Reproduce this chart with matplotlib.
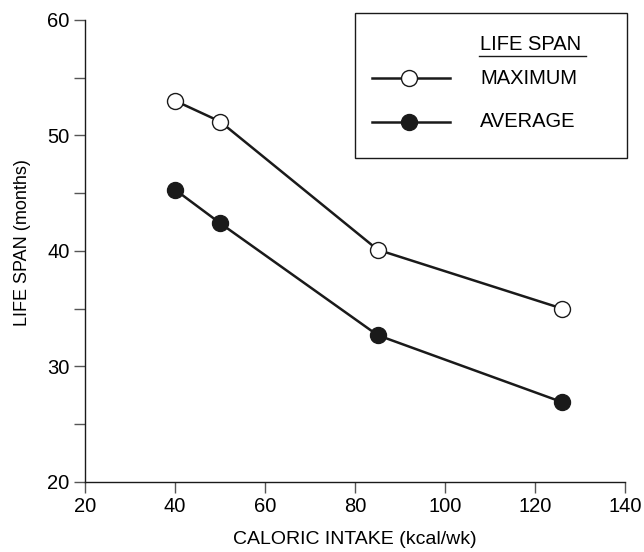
import matplotlib.pyplot as plt
from matplotlib.patches import Rectangle
from matplotlib.ticker import MultipleLocator

plt.rcParams['font.family'] = ['Liberation Sans', 'DejaVu Sans']

# caloric intake (kcal/wk) and life spans (months)
intake = [40, 50, 85, 126]
max_span = [53.0, 51.2, 40.1, 35.0]
avg_span = [45.3, 42.4, 32.7, 26.9]

xticks = [20, 40, 60, 80, 100, 120, 140]
yticks = [20, 30, 40, 50, 60]

fig = plt.figure(figsize=(6.44, 5.52), dpi=100)
ax = fig.add_axes([0.132, 0.127, 0.839, 0.837])

line_kw = dict(color='#1a1a1a', lw=1.8, ms=11.5, mec='#1a1a1a', mew=1.0, clip_on=False, zorder=3)
ax.plot(intake, max_span, marker='o', mfc='white', **line_kw)
ax.plot(intake, avg_span, marker='o', mfc='#1a1a1a', **line_kw)

ax.set_xlim(20, 140)
ax.set_ylim(20, 60)
ax.set_xticks(xticks)
ax.set_yticks(yticks)
ax.yaxis.set_minor_locator(MultipleLocator(5))
for s in ['top', 'right']:
    ax.spines[s].set_visible(False)
for s in ['left', 'bottom']:
    ax.spines[s].set_linewidth(1.0)
    ax.spines[s].set_color('#1a1a1a')
ax.tick_params(which='both', direction='out', length=8, width=1.0, color='#555555', labelsize=14.5, pad=3)
ax.set_xlabel('CALORIC INTAKE (kcal/wk)', fontsize=14, labelpad=11)
ax.set_ylabel('LIFE SPAN (months)', fontsize=13)
ax.yaxis.set_label_coords(-0.1, 0.517)

# hand-drawn legend box
tr = ax.transAxes
ax.add_patch(Rectangle((0.5, 0.701), 0.504, 0.314, transform=tr, fill=False,
                       lw=1.0, ec='#1a1a1a', clip_on=False))
ax.text(0.731, 0.946, 'LIFE SPAN', transform=tr, fontsize=14.5, va='center')
ax.plot([0.729, 0.927], [0.922, 0.922], transform=tr, color='#1a1a1a', lw=1.0, clip_on=False)
for yy, fc, lab in [(0.874, 'white', 'MAXIMUM'), (0.779, '#1a1a1a', 'AVERAGE')]:
    ax.plot([0.531, 0.676], [yy, yy], transform=tr, color='#1a1a1a', lw=1.8, clip_on=False)
    ax.plot([0.6], [yy], transform=tr, marker='o', ms=11.5, mfc=fc, mec='#1a1a1a',
            mew=1.0, clip_on=False)
    ax.text(0.731, yy, lab, transform=tr, fontsize=14.5, va='center')

fig.savefig('out.png', dpi=100)
